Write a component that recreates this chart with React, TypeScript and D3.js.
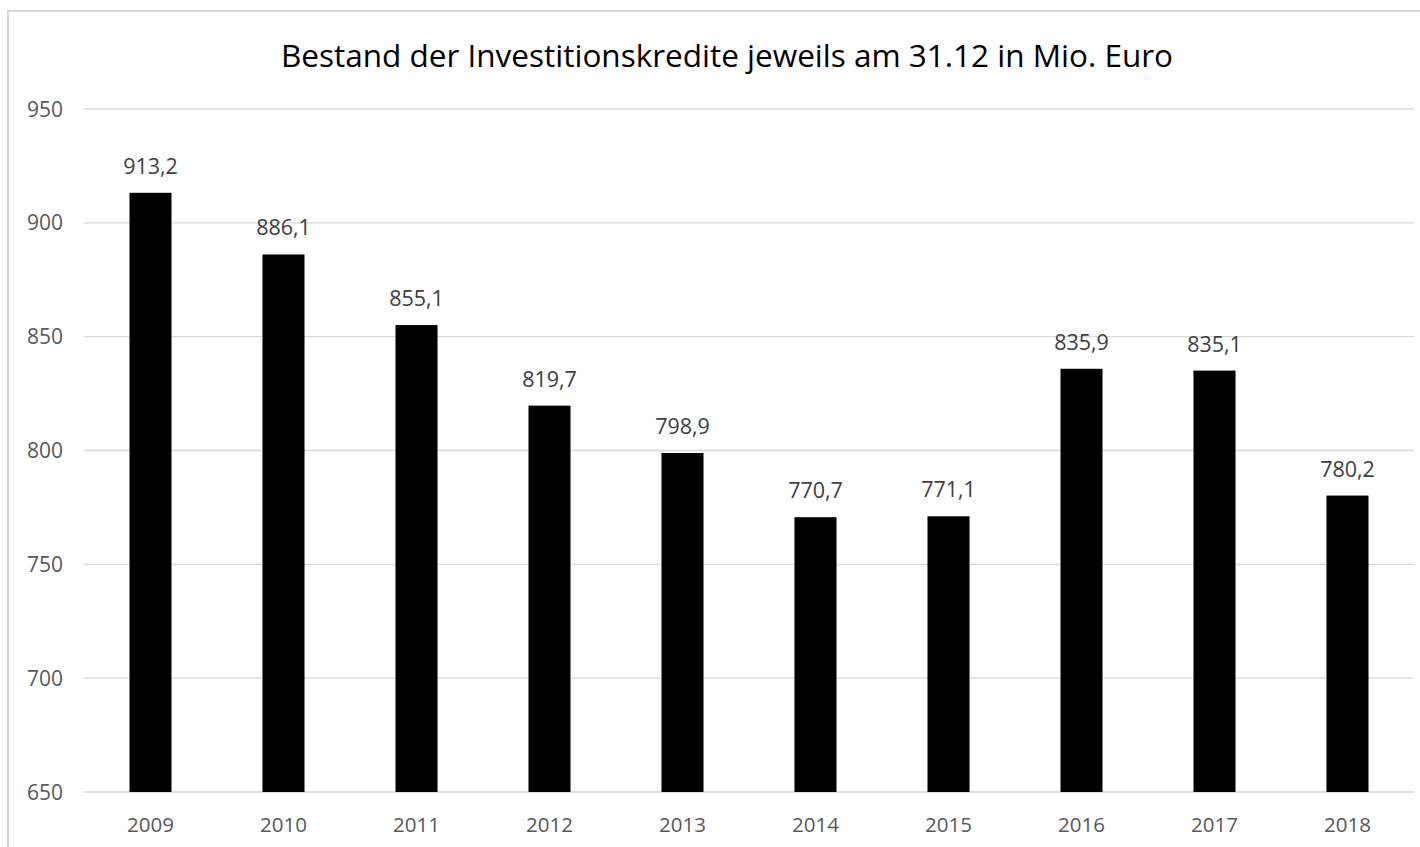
import React from "react";
import * as d3 from "d3";

const years = ["2009", "2010", "2011", "2012", "2013", "2014", "2015", "2016", "2017", "2018"];
const values = [913.2, 886.1, 855.1, 819.7, 798.9, 770.7, 771.1, 835.9, 835.1, 780.2];
const yTicks = [650, 700, 750, 800, 850, 900, 950];
const title = "Bestand der Investitionskredite jeweils am 31.12 in Mio. Euro";

const W = 1420;
const H = 847;
const plotLeft = 84;
const plotRight = 1414;
const plotTop = 109;
const plotBottom = 792;
const font = "'Open Sans', 'Segoe UI', sans-serif";

export default function App() {
  const x = d3.scaleBand<string>().domain(years).range([plotLeft, plotRight]).padding(0);
  const y = d3.scaleLinear().domain([650, 950]).range([plotBottom, plotTop]);
  const barW = x.bandwidth() * 0.316;
  const fmt = (v: number) => v.toFixed(1).replace(".", ",");

  return (
    <svg
      width={W}
      height={H}
      style={{ position: "absolute", left: 0, top: 0, background: "#fff" }}
      fontFamily={font}
    >
      <rect x={8} y={11} width={W + 20} height={H + 20} fill="#fff" stroke="#d9d9d9" strokeWidth={2} />
      <text x={727} y={67} textAnchor="middle" fontSize={31.5} fill="#000">
        {title}
      </text>
      {yTicks.map((t) => (
        <g key={t}>
          <line x1={plotLeft} x2={plotRight} y1={y(t)} y2={y(t)} stroke="#d9d9d9" strokeWidth={1.3} />
          <text x={63} y={y(t) + 7.5} textAnchor="end" fontSize={21} fill="#595959">
            {t}
          </text>
        </g>
      ))}
      {years.map((yr, i) => {
        const cx = (x(yr) as number) + x.bandwidth() / 2;
        const v = values[i];
        return (
          <g key={yr}>
            <rect x={cx - barW / 2} y={y(v)} width={barW} height={plotBottom - y(v)} fill="#000" />
            <text x={cx} y={y(v) - 19} textAnchor="middle" fontSize={21.5} fill="#404040">
              {fmt(v)}
            </text>
            <text x={cx} y={832} textAnchor="middle" fontSize={20.5} fill="#595959">
              {yr}
            </text>
          </g>
        );
      })}
    </svg>
  );
}
